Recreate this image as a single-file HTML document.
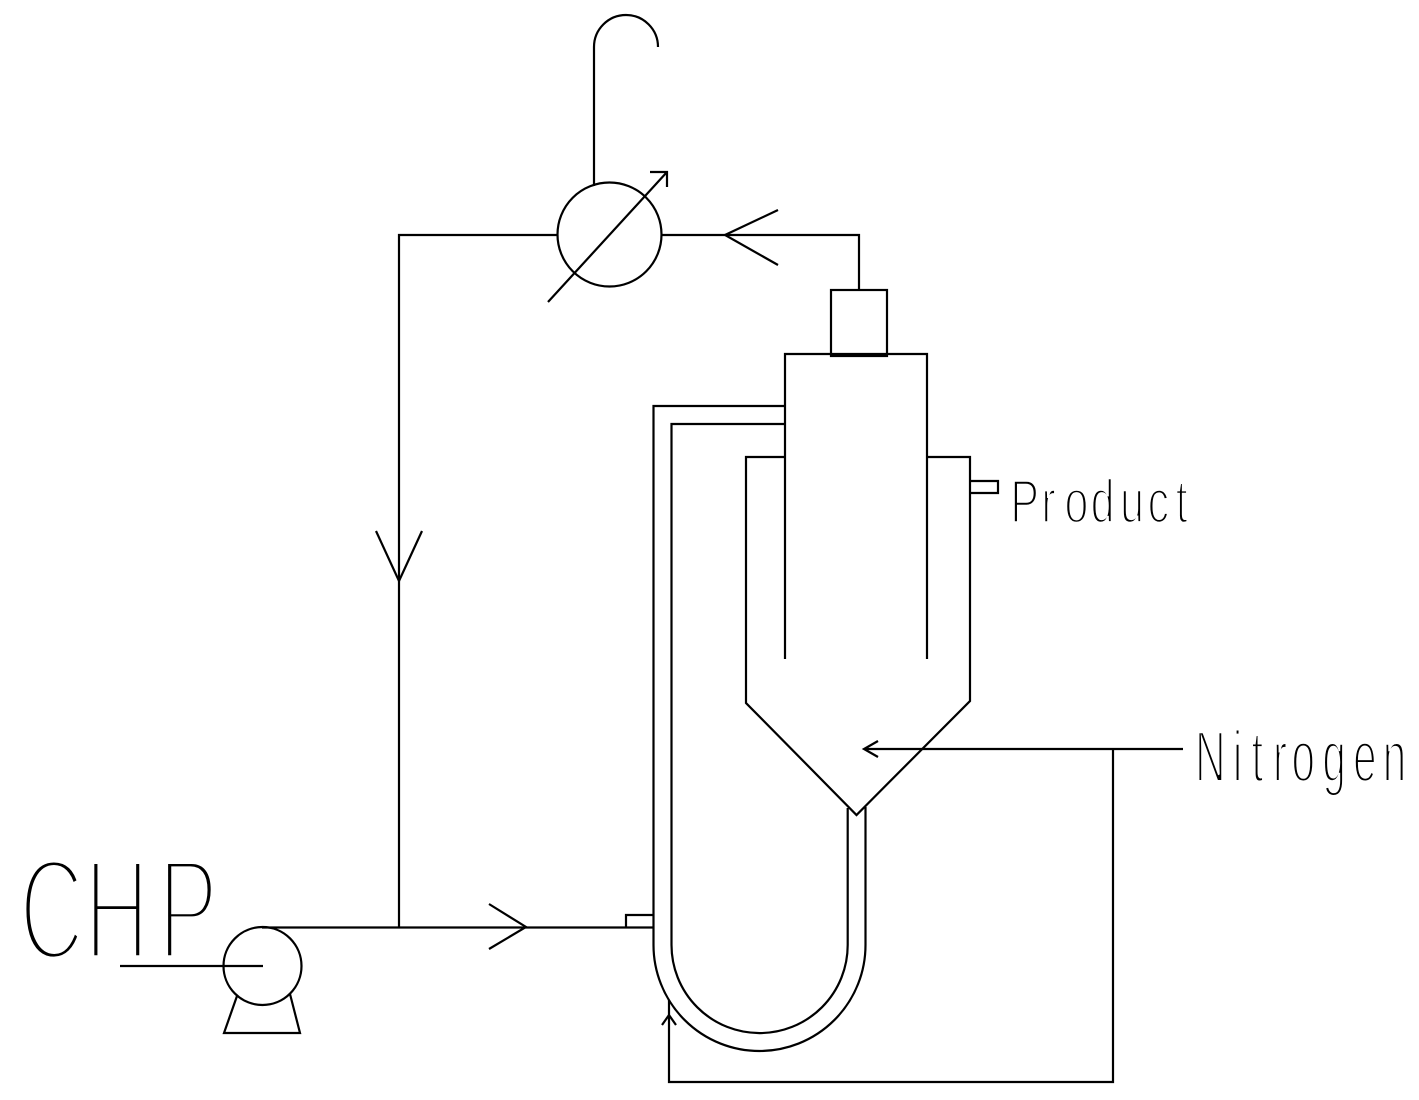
<!DOCTYPE html>
<html>
<head>
<meta charset="utf-8">
<style>
html,body{margin:0;padding:0;background:#fff}
svg{display:block}
.l{fill:none;stroke:#000;stroke-width:2.2}
.t{font-family:"Liberation Sans",sans-serif;fill:#000;stroke:#fff;paint-order:fill stroke}
</style>
</head>
<body>
<svg width="1419" height="1100" viewBox="0 0 1419 1100" xmlns="http://www.w3.org/2000/svg">
<rect width="1419" height="1100" fill="#fff"/>
<!-- condenser -->
<circle class="l" cx="609.5" cy="234.5" r="52"/>
<path class="l" d="M548 302L667 172M650 172H667V187"/>
<path class="l" d="M594 186V47A32 32 0 0 1 658 47"/>
<path class="l" d="M557 235H399V927M661.500 235H859V290"/>
<path class="l" d="M778 210L725 235L778 265"/>
<path class="l" d="M376 531L399 581L422 531"/>
<path class="l" d="M489 904L526 927L489 949"/>
<!-- vessel -->
<rect class="l" x="831" y="290" width="56" height="66"/>
<path class="l" d="M785 659V354H927V659"/>
<path class="l" d="M785 457H746V703L856.500 815L970 701V457H927"/>
<path class="l" d="M970 481H998V493H970"/>
<!-- jacket -->
<path class="l" d="M785 406H653.500V945A106 106 0 0 0 865.500 945V807"/>
<path class="l" d="M785 424H671.500V945A88 88 0 0 0 847.700 945V808"/>
<!-- feed -->
<path class="l" d="M262 927.500H653.500M626 927.500V915H653.500"/>
<circle class="l" cx="262.500" cy="966" r="39"/>
<path class="l" d="M120 966H263"/>
<path class="l" d="M237 996L224 1033H300L290 994"/>
<!-- nitrogen -->
<path class="l" d="M1183 749H864M878 741L864 749L878 757"/>
<path class="l" d="M1113 749V1082H669V1000"/>
<path class="l" d="M662 1025L669 1015L676 1025"/>
<!-- labels -->
<g transform="translate(0,959.500) scale(0.62,1)">
<text class="t" x="31 136 255" y="0" font-size="145" stroke-width="8.500">CHP</text>
</g>
<g transform="translate(0,522.300) scale(0.7036,1)">
<text class="t" x="1436 1480 1513 1550 1592 1631 1671" y="0" font-size="61" stroke-width="2.600">Product</text>
</g>
<g transform="translate(0,781.500) scale(0.581,1)">
<text class="t" x="2057 2122 2154 2191 2223 2276 2329 2380" y="0" font-size="72.600" stroke-width="3">Nitrogen</text>
</g>
</svg>
</body>
</html>
